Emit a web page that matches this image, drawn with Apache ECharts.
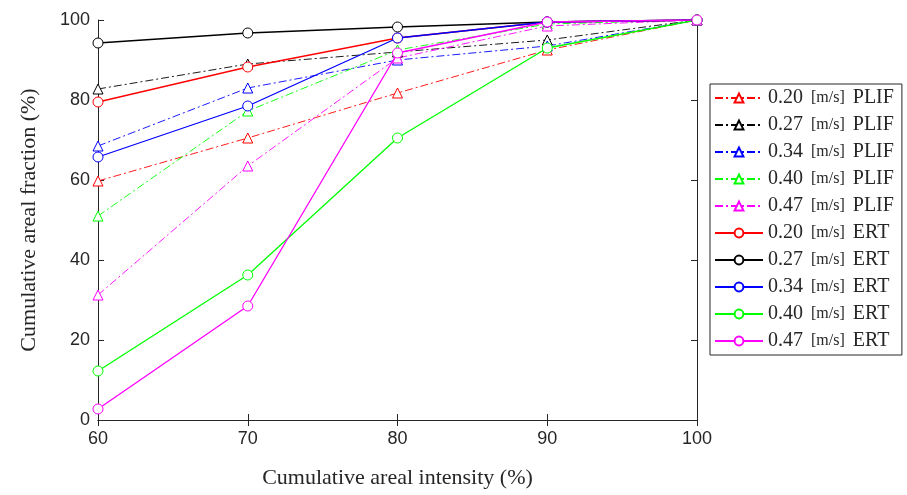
<!DOCTYPE html>
<html><head><meta charset="utf-8">
<script src="https://cdn.jsdelivr.net/npm/echarts@6/dist/echarts.min.js"></script>
<style>html,body{margin:0;padding:0;background:#fff}#c{width:907px;height:495px}</style>
</head><body><div id="c"></div>
<script>
const xValues = [60, 70, 80, 90, 100];
const yTicks = [0, 20, 40, 60, 80, 100];
const seriesNames = ['0.20 PLIF','0.27 PLIF','0.34 PLIF','0.40 PLIF','0.47 PLIF','0.20 ERT','0.27 ERT','0.34 ERT','0.40 ERT','0.47 ERT'];
const plif020 = [59.75, 70.5, 81.75, 92.5, 100];
const plif027 = [82.75, 89, 92, 95, 100];
const plif034 = [68.5, 83, 90, 93.5, 100];
const plif040 = [51, 77.25, 92.5, 99, 100];
const plif047 = [31.25, 63.5, 90.5, 98.5, 100];
const ert020 = [79.5, 88.25, 95.5, 99.5, 100];
const ert027 = [94.25, 96.75, 98.25, 99.5, 100];
const ert034 = [65.75, 78.5, 95.5, 99.5, 100];
const ert040 = [12.25, 36.25, 70.5, 93, 100];
const ert047 = [2.75, 28.5, 91.75, 99.5, 100];
const colors = ['#ff0000','#000000','#0000ff','#00ff00','#ff00ff','#ff0000','#000000','#0000ff','#00ff00','#ff00ff'];
const allData = [plif020, plif027, plif034, plif040, plif047, ert020, ert027, ert034, ert040, ert047];

const series = allData.map((d, i) => {
  const plif = i < 5;
  return {
    name: seriesNames[i],
    type: 'line',
    data: d.map((v, k) => [xValues[k], v]),
    symbol: plif ? 'triangle' : 'circle',
    symbolSize: 10,
    showAllSymbol: true,
    itemStyle: { color: '#ffffff', borderColor: colors[i], borderWidth: 1, opacity: 1 },
    lineStyle: { color: colors[i], width: plif ? 0.9 : 1.3, type: plif ? [8, 3, 2, 3] : 'solid' },
    emphasis: { disabled: true },
    animation: false,
    z: plif ? 2 : 3
  };
});

const chart = echarts.init(document.getElementById('c'), null, { renderer: 'canvas' });
const axisFont = { fontFamily: 'Liberation Sans, Arial, sans-serif', fontSize: 18, color: '#262626' };
chart.setOption({
  animation: false,
  grid: { left: 98, right: 210, top: 20, bottom: 75 },
  legend: {
    orient: 'vertical',
    left: 710, top: 84,
    borderColor: '#262626', borderWidth: 1,
    padding: [4, 8, 4, 4],
    itemWidth: 48, itemHeight: 11, itemGap: 7,
    data: seriesNames,
    textStyle: {
      fontFamily: 'Liberation Serif, Times New Roman, serif', fontSize: 20, color: '#262626',
      rich: { u: { fontFamily: 'Liberation Serif, serif', fontSize: 16, color: '#262626', padding: [0, 3, 0, 3] } }
    },
    formatter: name => { const p = name.split(' '); return p[0] + ' {u|[m/s]} ' + p[1]; }
  },
  xAxis: [{
    type: 'value', min: 60, max: 100, interval: 10,
    name: 'Cumulative areal intensity (%)', nameLocation: 'middle', nameGap: 47,
    nameTextStyle: { fontFamily: 'Liberation Serif, Times New Roman, serif', fontSize: 22, color: '#262626' },
    axisLine: { lineStyle: { color: '#262626', width: 1 } },
    axisTick: { inside: true, length: 6, lineStyle: { color: '#262626' } },
    axisLabel: Object.assign({ margin: 10 }, axisFont),
    splitLine: { show: false }
  }, {
    type: 'value', min: 60, max: 100, interval: 10, position: 'top',
    axisLine: { show: true, lineStyle: { color: '#262626', width: 1 } },
    axisTick: { inside: true, length: 6, lineStyle: { color: '#262626' } },
    axisLabel: { show: false }, splitLine: { show: false }
  }],
  yAxis: [{
    type: 'value', min: 0, max: 100, interval: 20,
    name: 'Cumulative areal fraction (%)', nameLocation: 'middle', nameGap: 58,
    nameTextStyle: { fontFamily: 'Liberation Serif, Times New Roman, serif', fontSize: 22, color: '#262626' },
    axisLine: { show: true, lineStyle: { color: '#262626', width: 1 } },
    axisTick: { show: true, inside: true, length: 6, lineStyle: { color: '#262626' } },
    axisLabel: Object.assign({ margin: 8, formatter: v => yTicks.includes(v) ? String(v) : '' }, axisFont),
    splitLine: { show: false }
  }, {
    type: 'value', min: 0, max: 100, interval: 20, position: 'right',
    axisLine: { show: true, lineStyle: { color: '#262626', width: 1 } },
    axisTick: { show: true, inside: true, length: 6, lineStyle: { color: '#262626' } },
    axisLabel: { show: false }, splitLine: { show: false }
  }],
  series: series
});
</script></body></html>
